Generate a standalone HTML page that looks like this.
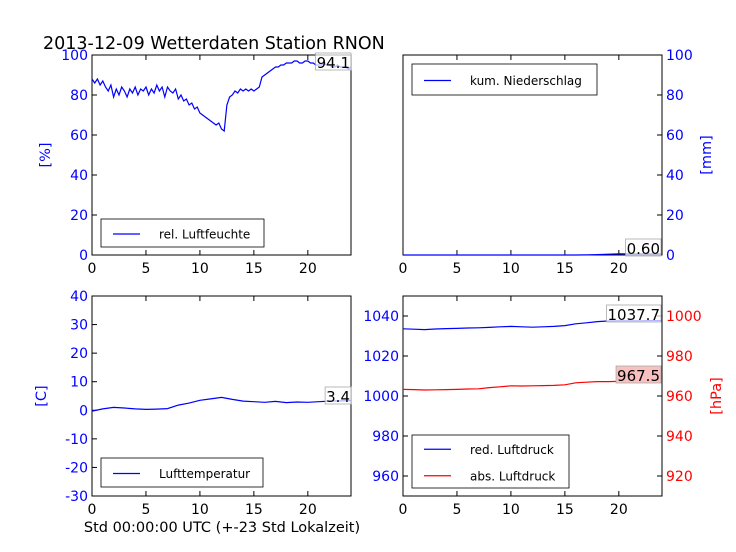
<!DOCTYPE html>
<html><head><meta charset="utf-8"><style>
body{margin:0;background:#fff;}
svg{display:block;font-family:"DejaVu Sans","Liberation Sans",sans-serif;}
</style></head><body>
<svg id="chart" width="736" height="552" viewBox="0 0 736 552" xmlns="http://www.w3.org/2000/svg">
<text x="43" y="49" font-size="17.5" fill="#000">2013-12-09 Wetterdaten Station RNON</text>
<text x="222" y="532" font-size="14.5" text-anchor="middle" fill="#000">Std 00:00:00 UTC (+-23 Std Lokalzeit)</text>
</svg>
<script>
const hours = [0,5,10,15,20];
const humidity = [88,86,88,85,87,84,82,85,79,83,80,84,82,79,83,81,84,80,83,82,84,80,83,81,85,82,84,79,84,82,81,83,78,80,77,78,75,76,73,74,71,70,69,68,67,66,65,66,63,62,75,79,80,82,81,83,82,83,82,83,82,83,84,89,90,91,92,93,94,94,95,95,96,96,96,97,97,96,96,97,97,96,96,95,95,95,96,95,95,94,94,95,94,94,94,93,94];
const precip = [0,0,0,0,0,0,0,0,0,0,0,0,0,0,0,0,0,0.05,0.2,0.4,0.55,0.6,0.6,0.6,0.6];
const temperature = [-0.3,0.5,1,0.8,0.5,0.3,0.4,0.6,1.8,2.5,3.5,4,4.5,3.8,3.2,3,2.8,3.1,2.7,2.9,2.8,3,3.2,3.3,3.4];
const pressureRed = [1033.6,1033.4,1033.2,1033.5,1033.7,1033.8,1034.0,1034.1,1034.3,1034.6,1034.8,1034.6,1034.4,1034.6,1034.8,1035.2,1036.1,1036.6,1037.2,1037.5,1037.6,1037.6,1037.6,1037.7,1037.7];
const pressureAbs = [963.3,963.2,963.0,963.1,963.2,963.3,963.5,963.6,964.2,964.6,965.1,965.0,965.1,965.2,965.3,965.6,966.6,966.9,967.2,967.2,967.3,967.3,967.4,967.4,967.5];
const humTicks = [0,20,40,60,80,100];
const tempTicks = [-30,-20,-10,0,10,20,30,40];
const presTicks = [960,980,1000,1020,1040];
const absTicks = [920,940,960,980,1000];

const svg = document.getElementById('chart');
const NS = 'http://www.w3.org/2000/svg';
function mk(tag, attrs, parent){const e=document.createElementNS(NS,tag);for(const k in attrs)e.setAttribute(k,attrs[k]);(parent||svg).appendChild(e);return e;}

function panel(x0,y0,name){
  const p={x0:x0,y0:y0,w:259,h:200};
  p.sx=v=>x0+v/24*p.w;
  const r=mk('rect',{x:x0,y:y0,width:p.w,height:p.h,fill:'none',stroke:'#000','stroke-width':1});
  
  
  hours.forEach(h=>{
    const X=p.sx(h);
    mk('line',{x1:X,y1:y0+p.h,x2:X,y2:y0+p.h-5,stroke:'#000'});
    mk('line',{x1:X,y1:y0,x2:X,y2:y0+5,stroke:'#000'});
    const t=mk('text',{x:X,y:y0+p.h+18,'font-size':14,'text-anchor':'middle',fill:'#000'});
    t.textContent=h;
    
    
  });
  return p;
}
function yAxis(p,min,max,ticks,side,color){
  const sy=v=>p.y0+p.h-(v-min)/(max-min)*p.h;
  ticks.forEach(v=>{
    const Y=sy(v);
    if(side==='left'){
      mk('line',{x1:p.x0,y1:Y,x2:p.x0+5,y2:Y,stroke:'#000'});
      const t=mk('text',{x:p.x0-4,y:Y+5,'font-size':14,'text-anchor':'end',fill:color});
      t.textContent=v;
      
      
    } else {
      mk('line',{x1:p.x0+p.w,y1:Y,x2:p.x0+p.w-5,y2:Y,stroke:'#000'});
      const t=mk('text',{x:p.x0+p.w+4,y:Y+5,'font-size':14,'text-anchor':'start',fill:color});
      t.textContent=v;
      
      
    }
  });
  return sy;
}
function line(p,sy,vals,color,name){
  const step=24/(vals.length-1);
  const d=vals.map((v,i)=>(i?'L':'M')+p.sx(i*step).toFixed(1)+','+sy(v).toFixed(1)).join('');
  const e=mk('path',{d:d,fill:'none',stroke:color,'stroke-width':1.2});
  
  
}
function legend(x,y,w,h,items){
  const r=mk('rect',{x:x,y:y,width:w,height:h,fill:'#fff',stroke:'#000','stroke-width':0.8});
  
  
  items.forEach((it,i)=>{
    const cy=y+(h/items.length)*(i+0.5)+1;
    mk('line',{x1:x+12,y1:cy,x2:x+39,y2:cy,stroke:it[1],'stroke-width':1.2});
    const t=mk('text',{x:x+58,y:cy+4.5,'font-size':12,fill:'#000'});
    t.textContent=it[0];
    
    
  });
}
function valBox(xr,ycenter,text,bg){
  const r=mk('rect',{x:xr,y:ycenter-9,width:10,height:17,fill:bg,stroke:'#aaa','stroke-width':0.8});
  
  
  const t=mk('text',{x:xr,y:ycenter+6,'font-size':15,'text-anchor':'end',fill:'#000'});
  t.textContent=text;
  
  
  const w=t.getComputedTextLength()+2;
  r.setAttribute('x',xr-w+1);
  r.setAttribute('width',w);
}
function yTitle(x,y,text,color,name){
  const t=mk('text',{x:x,y:y,'font-size':14.5,'text-anchor':'middle',fill:color,transform:'rotate(-90 '+x+' '+y+')'});
  t.textContent=text;
  
  
}

// Panel 1 humidity
const p1=panel(92,55,'humidity-panel');
const sy1=yAxis(p1,0,100,humTicks,'left','#00f');
line(p1,sy1,humidity,'#00f','humidity-line');
legend(101,219,163,28,[['rel. Luftfeuchte','#00f']]);
valBox(350,62,'94.1','rgba(255,255,255,0.7)');
yTitle(50,155,'[%]','#00f','humidity-y-title');

// Panel 2 precipitation
const p2=panel(403,55,'precip-panel');
const sy2=yAxis(p2,0,100,humTicks,'right','#00f');
line(p2,sy2,precip,'#00f','precip-line');
legend(412,64,185,31,[['kum. Niederschlag','#00f']]);
valBox(660,248,'0.60','rgba(255,255,255,0.7)');
yTitle(711,155,'[mm]','#00f','precip-y-title');

// Panel 3 temperature
const p3=panel(92,296,'temperature-panel');
const sy3=yAxis(p3,-30,40,tempTicks,'left','#00f');
line(p3,sy3,temperature,'#00f','temperature-line');
legend(101,458,162,29,[['Lufttemperatur','#00f']]);
valBox(350,396,'3.4','rgba(255,255,255,0.7)');
yTitle(46,396,'[C]','#00f','temperature-y-title');

// Panel 4 pressure
const p4=panel(403,296,'pressure-panel');
const sy4=yAxis(p4,950,1050,presTicks,'left','#00f');
const sy4b=yAxis(p4,910,1010,absTicks,'right','#f00');
line(p4,sy4,pressureRed,'#00f','red-pressure-line');
line(p4,sy4b,pressureAbs,'#f00','abs-pressure-line');
legend(412,435,157,53,[['red. Luftdruck','#00f'],['abs. Luftdruck','#f00']]);
valBox(660,314,'1037.7','rgba(255,255,255,0.7)');
valBox(660,375,'967.5','#f9c0c0');
yTitle(721,396,'[hPa]','#f00','pressure-y-title');
</script>
</body></html>
